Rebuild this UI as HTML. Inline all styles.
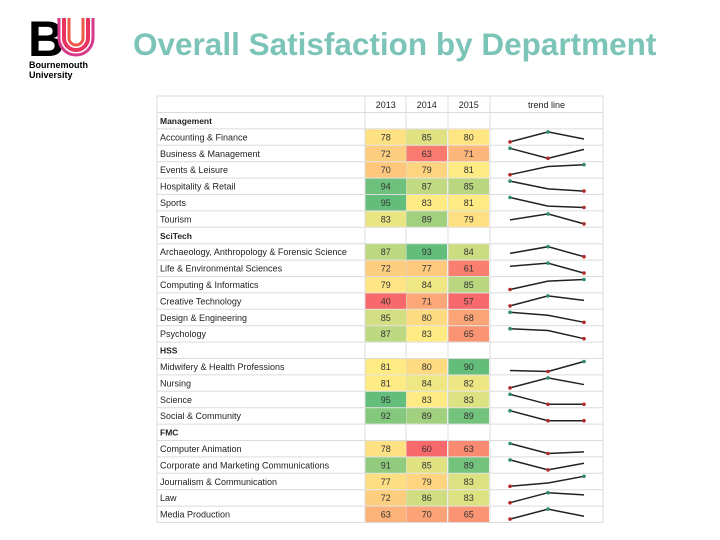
<!DOCTYPE html>
<html><head><meta charset="utf-8">
<style>
body{margin:0;width:720px;height:540px;background:#fff;overflow:hidden;font-family:"Liberation Sans",sans-serif;position:relative}
#title{position:absolute;left:133px;top:26px;font-weight:bold;font-size:31.5px;color:#7cc4b8;white-space:nowrap}
#logo{position:absolute;left:28px;top:14px}
svg text{font-family:"Liberation Sans",sans-serif}
</style></head><body>
<div id="logo">
<svg width="72" height="70">
<text x="0" y="42" font-size="50" font-weight="bold" fill="#000">B</text>
<path d="M36 4 V24 A12 12 0 0 0 60 24 V4" fill="none" stroke="#e8355f" stroke-width="4"/>
<path d="M41 4 V24 A7 7 0 0 0 55 24 V4" fill="none" stroke="#ee5a4a" stroke-width="3"/>
<path d="M31 4 V24 A17 17 0 0 0 65 24 V4" fill="none" stroke="#d63a8a" stroke-width="3"/>
<text x="1" y="54" font-size="9" font-weight="bold" font-family="Liberation Serif">Bournemouth</text>
<text x="1" y="64" font-size="9" font-weight="bold" font-family="Liberation Serif">University</text>
</svg></div>
<div id="title">Overall Satisfaction by Department</div>
<svg id="tbl" width="720" height="540" style="position:absolute;left:0;top:0"></svg>
<script>
const years=["2013","2014","2015"];
const labels=["Management","Accounting & Finance","Business & Management","Events & Leisure","Hospitality & Retail","Sports","Tourism","SciTech","Archaeology, Anthropology & Forensic Science","Life & Environmental Sciences","Computing & Informatics","Creative Technology","Design & Engineering","Psychology","HSS","Midwifery & Health Professions","Nursing","Science","Social & Community","FMC","Computer Animation","Corporate and Marketing Communications","Journalism & Communication","Law","Media Production"];
const v2013=[null,78,72,70,94,95,83,null,87,72,79,40,85,87,null,81,81,95,92,null,78,91,77,72,63];
const v2014=[null,85,63,79,87,83,89,null,93,77,84,71,80,83,null,80,84,83,89,null,60,85,79,86,70];
const v2015=[null,80,71,81,85,81,79,null,84,61,85,57,68,65,null,90,82,83,89,null,63,89,83,83,65];
const cols=[v2013,v2014,v2015];
const svg=document.getElementById('tbl');const NS='http://www.w3.org/2000/svg';
function mk(t,a,p){const e=document.createElementNS(NS,t);for(const k in a)e.setAttribute(k,a[k]);(p||svg).appendChild(e);return e;}
const L=157,R=603,T=96,HH=16.5,RH=16.4;
const colX=[365,406,448,490];const colW=41.5;
function rowY(i){return T+HH+i*RH;}
function lerp(a,b,t){return a.map((x,i)=>Math.round(x+(b[i]-x)*t));}
const RED=[248,105,107],YEL=[255,235,132],GRN=[99,190,123];
function color(v,col){const vals=col.filter(x=>x!=null).sort((a,b)=>a-b);const mn=vals[0],mx=vals[vals.length-1];const md=vals[Math.floor(vals.length/2)];
 let c;if(v<=md)c=lerp(RED,YEL,md==mn?1:(v-mn)/(md-mn));else c=lerp(YEL,GRN,(v-md)/(mx-md));return 'rgb('+c.join(',')+')';}
const bottom=rowY(labels.length);
for(let i=0;i<=labels.length;i++){const y=i==0?T+HH:rowY(i);mk('line',{x1:L,x2:R,y1:y,y2:y,stroke:'#dcdcdc','stroke-width':1});}
mk('line',{x1:L,x2:R,y1:T,y2:T,stroke:'#dcdcdc'});
[L,...colX,R].forEach(x=>mk('line',{x1:x,x2:x,y1:T,y2:bottom,stroke:'#dcdcdc'}));
years.forEach((yr,j)=>{const t=mk('text',{x:colX[j]+colW/2,y:T+12,'font-size':9,'text-anchor':'middle',fill:'#222'});t.textContent=yr;

});
const th=mk('text',{x:(colX[3]+R)/2,y:T+12,'font-size':9,'text-anchor':'middle',fill:'#222'});th.textContent='trend line';


const sx=[510,548,584];
labels.forEach((lab,i)=>{const y=rowY(i);const grp=v2013[i]==null;
 const t=mk('text',{x:L+3,y:y+11.5,'font-size':grp?8.5:9,'font-weight':grp?'bold':'normal',fill:'#222'});t.textContent=lab;
 
 
 if(grp)return;
 cols.forEach((col,j)=>{const v=col[i];
  const r=mk('rect',{x:colX[j]+0.5,y:y+0.5,width:colW-1,height:RH-1,fill:color(v,col)});
  
  
  const tx=mk('text',{x:colX[j]+colW/2,y:y+11.5,'font-size':9,'text-anchor':'middle',fill:'#333'});tx.textContent=v;
  
  });
 const vals=cols.map(c=>c[i]);const mn=Math.min(...vals),mx=Math.max(...vals);
 const py=v=>mx==mn?y+8:y+13-(v-mn)/(mx-mn)*10;
 const pts=vals.map((v,k)=>sx[k]+','+py(v)).join(' ');
 const pl=mk('polyline',{points:pts,fill:'none',stroke:'#222','stroke-width':1.5});
 
 
 vals.forEach((v,k)=>{let f=null;if(v==mx)f='#2e8b6e';else if(v==mn)f='#b22b2b';if(!f)return;
  const c=mk('circle',{cx:sx[k],cy:py(v),r:1.8,fill:f});
  
  });
});
</script>
</body></html>
